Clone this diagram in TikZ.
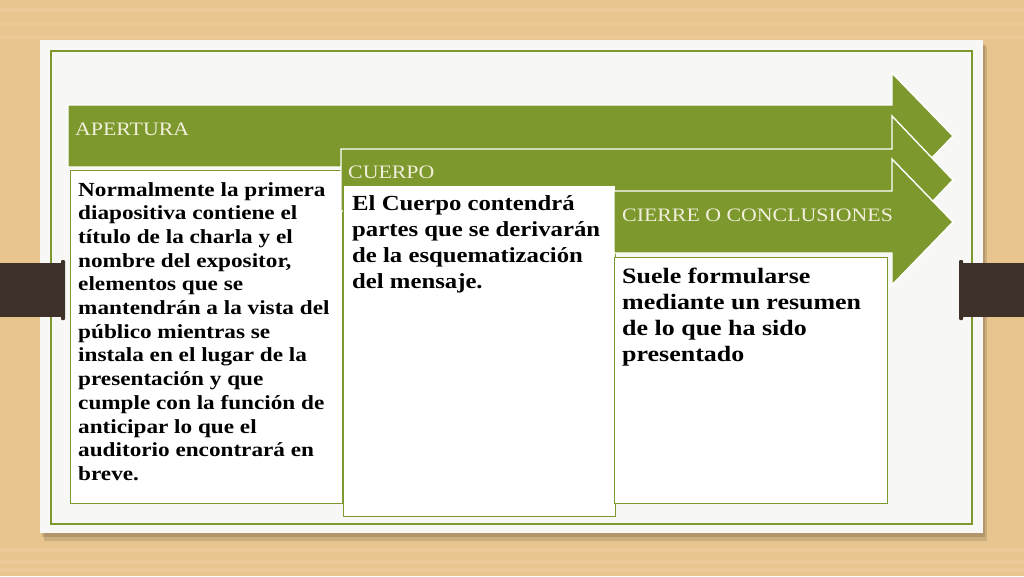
\documentclass[tikz,border=0pt]{standalone}
\usepackage{fontspec}
\setmainfont{Liberation Serif}
\newfontfamily\hdrfont[FakeStretch=1.15]{Liberation Serif}
\newfontfamily\smallbodyfont[FakeStretch=1.16]{Liberation Serif}
\newfontfamily\midbodyfont[FakeStretch=1.15]{Liberation Serif}
\newfontfamily\bigbodyfont[FakeStretch=1.18]{Liberation Serif}
\definecolor{wood}{HTML}{E8C48E}
\definecolor{woodlight}{HTML}{F0D3A6}
\definecolor{card}{HTML}{F7F7F5}
\definecolor{olive}{HTML}{7D982C}
\definecolor{strap}{HTML}{3E3129}
\definecolor{cream}{HTML}{F1EFDC}
\begin{document}
\begin{tikzpicture}[x=1pt,y=-1pt,
  arrowshape/.style={fill=olive, draw=white, line width=1.4pt, line join=miter},
  textbox/.style={fill=white, draw=olive, line width=0.9pt},
  header/.style={anchor=west, inner sep=0pt, text=cream, font=\hdrfont\fontsize{19}{22}\selectfont},
  bodysmall/.style={anchor=north west, inner sep=0pt, align=left, font=\smallbodyfont\bfseries\fontsize{20}{23.7}\selectfont},
  bodymid/.style={anchor=north west, inner sep=0pt, align=left, font=\midbodyfont\bfseries\fontsize{21.5}{26.2}\selectfont},
  bodybig/.style={anchor=north west, inner sep=0pt, align=left, font=\bigbodyfont\bfseries\fontsize{22}{26}\selectfont}]
\useasboundingbox (0,0) rectangle (1024,576);
% background
\fill[wood] (0,0) rectangle (1024,576);
\foreach \yy in {8,22,35,548,560,568} {\fill[woodlight, opacity=0.35] (0,\yy) rectangle (1024,\yy+4);}
% card with shadow
\fill[black, opacity=0.12] (44,46) rectangle (987,541);
\fill[black, opacity=0.12] (42,44) rectangle (985,537);
\fill[card] (40,40) rectangle (983,533);
\draw[olive, line width=1.2pt] (51,51) rectangle (972,524);
% arrows and boxes
\path[arrowshape] (68,105) -- (892,105) -- (892,73) -- (953,136) -- (892,199) -- (892,167) -- (68,167) -- cycle;
\node[textbox, anchor=north west, minimum width=272pt, minimum height=333pt, inner sep=0pt] (box1) at (70,170) {};
\path[arrowshape] (341,149) -- (892,149) -- (892,116) -- (953,180) -- (892,244) -- (892,211) -- (341,211) -- cycle;
\node[textbox, anchor=north west, minimum width=272pt, minimum height=331pt, inner sep=0pt] (box2) at (343,185) {};
\path[arrowshape] (614,191) -- (892,191) -- (892,159) -- (953,222) -- (892,285) -- (892,253) -- (614,253) -- cycle;
\node[textbox, anchor=north west, minimum width=273pt, minimum height=246pt, inner sep=0pt] (box3) at (614,257) {};
% headers
\node[header] (h1) at (75,129) {APERTURA};
\node[header] (h2) at (348,172) {CUERPO};
\node[header] (h3) at (622,215) {CIERRE O CONCLUSIONES};
% texts
\node[bodysmall] (t1) at (78,182) {Normalmente la primera\\diapositiva contiene el\\título de la charla y el\\nombre del expositor,\\elementos que se\\mantendrán a la vista del\\público mientras se\\instala en el lugar de la\\presentación y que\\cumple con la función de\\anticipar lo que el\\auditorio encontrará en\\breve.};
\node[bodymid] (t2) at (352,195) {El Cuerpo contendrá\\partes que se derivarán\\de la esquematización\\del mensaje.};
\node[bodybig] (t3) at (622,268) {Suele formularse\\mediante un resumen\\de lo que ha sido\\presentado};
% straps
\fill[strap] (0,263) rectangle (63,317);
\fill[strap, rounded corners=1pt] (61,260) rectangle (65,320);
\fill[strap] (960,263) rectangle (1024,317);
\fill[strap, rounded corners=1pt] (959,260) rectangle (963,320);
\end{tikzpicture}
\end{document}
